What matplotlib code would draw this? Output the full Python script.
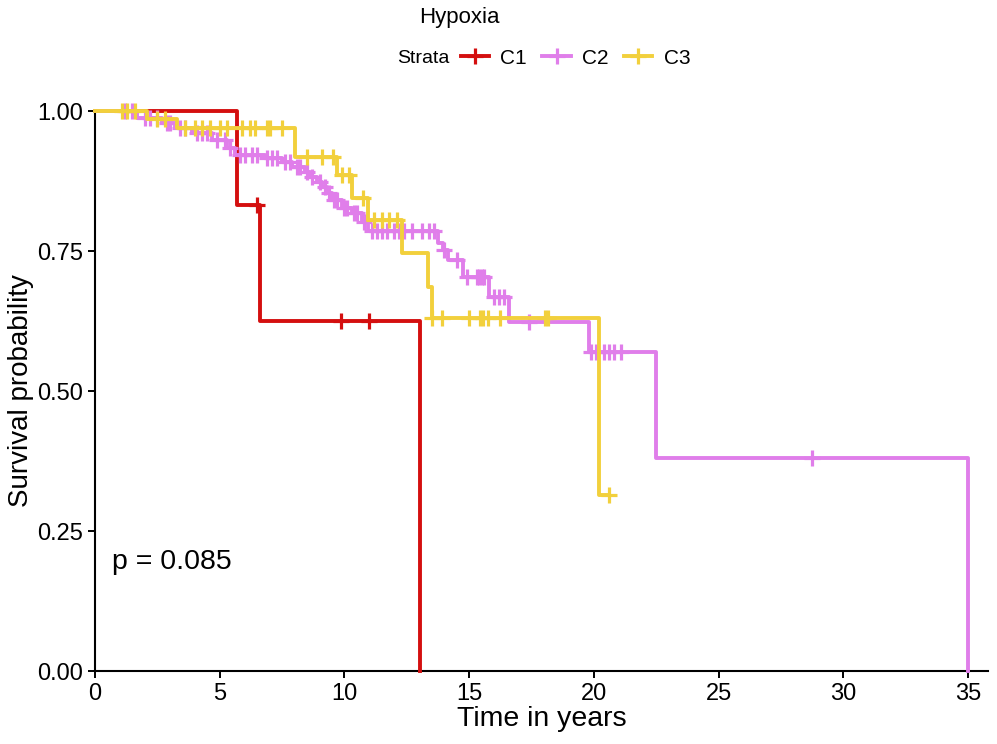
import numpy as np
import matplotlib
matplotlib.use('Agg')
import matplotlib.pyplot as plt
from matplotlib.lines import Line2D

plt.rcParams['font.family'] = ['Liberation Sans', 'DejaVu Sans']

# Kaplan-Meier steps: time of event (years), survival after it
c1_time = [0, 5.7, 6.6, 13.03]
c1_surv = [1.0, 0.833, 0.625, 0.0]
c1_end = 13.03
c1_cens = [6.5, 9.85, 11.0]

c2_time = [0, 1.7, 2.7, 3.2, 3.9, 4.7, 5.3, 5.6, 6.8, 7.5, 7.9, 8.4, 8.6, 8.9,
           9.1, 9.3, 9.5, 9.9, 10.3, 10.7, 10.95, 13.75, 13.95, 14.15, 14.75,
           15.8, 16.6, 19.8, 22.5, 35.0]
c2_surv = [1.0, 0.987, 0.979, 0.970, 0.961, 0.948, 0.934, 0.922, 0.916, 0.909,
           0.900, 0.891, 0.882, 0.873, 0.864, 0.854, 0.841, 0.827, 0.818, 0.802,
           0.785, 0.764, 0.752, 0.734, 0.704, 0.668, 0.623, 0.570, 0.380, 0.0]
c2_end = 35.0
c2_cens = [1.2, 1.5, 2.0, 2.2, 2.5, 2.9, 3.0, 3.4, 3.6, 4.1, 4.3, 4.5, 4.9, 5.2,
           5.4, 5.8, 6.0, 6.3, 6.5, 6.9, 7.1, 7.3, 7.6, 7.8, 8.1, 8.2, 8.5, 8.7,
           9.0, 9.2, 9.4, 9.6, 9.7, 10.0, 10.1, 10.4, 10.5, 10.8, 11.1, 11.3,
           11.5, 11.7, 12.0, 12.2, 12.4, 12.7, 13.1, 13.4, 13.6, 14.0, 14.5,
           14.9, 15.3, 15.4, 15.5, 15.6, 16.0, 16.2, 16.4, 17.4, 19.9, 20.1,
           20.4, 20.6, 20.8, 21.1, 28.75]

c3_time = [0, 2.1, 3.3, 8.0, 9.7, 10.3, 10.95, 12.3, 13.35, 13.5, 20.2]
c3_surv = [1.0, 0.985, 0.969, 0.918, 0.886, 0.845, 0.805, 0.746, 0.686, 0.630, 0.314]
c3_end = 20.6
c3_cens = [1.1, 1.3, 1.6, 2.5, 2.8, 3.6, 4.0, 4.3, 4.6, 5.0, 5.3, 5.9, 6.2, 6.4,
           6.9, 7.0, 7.5, 8.5, 9.1, 9.55, 9.9, 10.2, 10.75, 11.2, 11.5, 11.8,
           12.1, 13.5, 13.9, 15.0, 15.45, 15.55, 15.75, 16.25, 18.05, 18.15, 20.6]

strata = ['C1', 'C2', 'C3']
colors = ['#D40F0F', '#E07EEA', '#F2D03C']
p_text = 'p = 0.085'


def surv_at(times, survs, t):
    i = np.searchsorted(times, t, side='right') - 1
    return survs[i]


fig = plt.figure(figsize=(9.97, 7.44), dpi=100)
ax = fig.add_axes([0.0953, 0.0981, 0.8957, 0.7527])

groups = [(c1_time, c1_surv, c1_end, c1_cens),
          (c2_time, c2_surv, c2_end, c2_cens),
          (c3_time, c3_surv, c3_end, c3_cens)]
for (t, s, end, cens), col in zip(groups, colors):
    ax.step(np.r_[t, end], np.r_[s, s[-1]], where='post', color=col, lw=2.8,
            clip_on=False, zorder=3)
    cy = [surv_at(t, s, c) for c in cens]
    ax.plot(cens, cy, ls='none', marker='+', ms=11, mew=2.3, color=col,
            clip_on=False, zorder=3)

ax.set_xlim(0, 35.8)
ax.set_ylim(0, 1.0)
ax.set_xticks([0, 5, 10, 15, 20, 25, 30, 35])
ax.set_yticks([0, 0.25, 0.5, 0.75, 1.0])
ax.set_yticklabels(['0.00', '0.25', '0.50', '0.75', '1.00'])
for side in ['top', 'right']:
    ax.spines[side].set_visible(False)
for side in ['left', 'bottom']:
    ax.spines[side].set_linewidth(1.5)
ax.tick_params(labelsize=17, width=1.4, length=5, colors='black')
ax.set_xlabel('Time in years', fontsize=20.5, labelpad=1)
ax.set_ylabel('Survival probability', fontsize=20, labelpad=2)
ax.text(0.7, 0.195, p_text, fontsize=20.5, ha='left', va='center')

# legend on top
fig.text(0.461, 0.977, 'Hypoxia', fontsize=16, ha='center', va='center')
fig.text(0.398, 0.922, 'Strata', fontsize=14, ha='left', va='center')
handles = [Line2D([], [], color=c, lw=2.8, marker='+', ms=11, mew=2.3)
           for c in colors]
fig.legend(handles, strata, loc='center left', bbox_to_anchor=(0.462, 0.922),
           ncol=3, frameon=False, fontsize=15, handlelength=1.35,
           handletextpad=0.55, columnspacing=0.75, borderpad=0, borderaxespad=0)

fig.savefig('out.png', dpi=100)
